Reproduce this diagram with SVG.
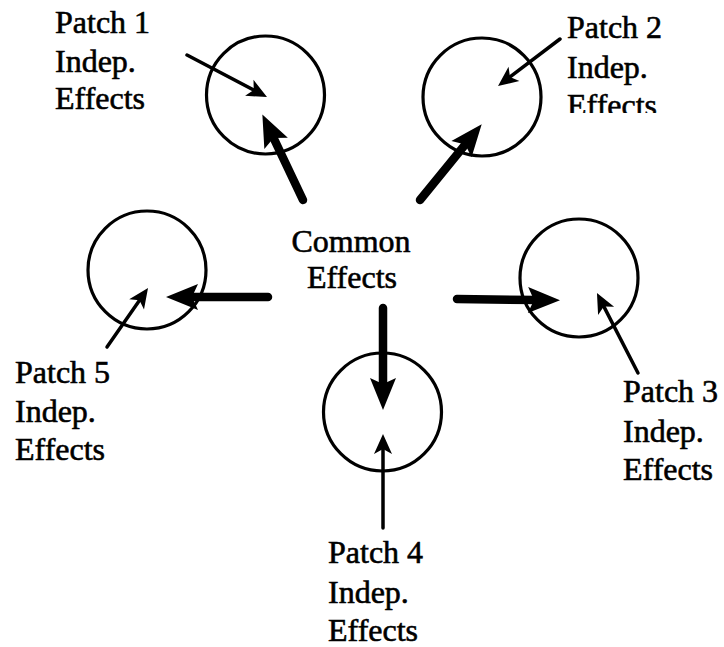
<svg xmlns="http://www.w3.org/2000/svg" width="724" height="647" viewBox="0 0 724 647">
<style>
.c{fill:none;stroke:#000;stroke-width:3.2}
.t{font-family:"Liberation Serif","Times New Roman",Times,serif;font-size:32px;fill:#000;stroke:#000;stroke-width:0.6}
.k{stroke:#000;stroke-width:8.5;stroke-linecap:round;fill:none;marker-end:url(#hk)}
.n{stroke:#000;stroke-width:3.5;stroke-linecap:round;fill:none;marker-end:url(#hn)}
</style>
<defs>
<marker id="hk" markerUnits="userSpaceOnUse" markerWidth="34" markerHeight="28" refX="10" refY="13" orient="auto" overflow="visible">
<path d="M0,0 L32,13 L0,26 L6,13 Z" fill="#000"/>
</marker>
<marker id="hn" markerUnits="userSpaceOnUse" markerWidth="22" markerHeight="20" refX="7" refY="9" orient="auto" overflow="visible">
<path d="M0,0 L20,9 L0,18 L5,9 Z" fill="#000"/>
</marker>
<clipPath id="clip2"><rect x="540" y="0" width="184" height="113"/></clipPath>
</defs>
<rect width="724" height="647" fill="#fff"/>
<g id="center">
<text class="t" x="351" y="252" text-anchor="middle">Common</text>
<text class="t" x="352" y="288" text-anchor="middle">Effects</text>
</g>
<g id="patch1">
<circle class="c" cx="265.5" cy="95" r="59"/>
<text class="t" x="55" y="33">Patch 1</text>
<text class="t" x="55" y="72">Indep.</text>
<text class="t" x="55" y="109">Effects</text>
</g>
<g id="patch2">
<circle class="c" cx="482" cy="97" r="59"/>
<text class="t" x="567" y="38">Patch 2</text>
<text class="t" x="567" y="78">Indep.</text>
<text class="t" x="567" y="116" clip-path="url(#clip2)">Effects</text>
</g>
<g id="patch3">
<circle class="c" cx="579" cy="278" r="59"/>
<text class="t" x="623" y="402">Patch 3</text>
<text class="t" x="623" y="442">Indep.</text>
<text class="t" x="623" y="480">Effects</text>
</g>
<g id="patch4">
<circle class="c" cx="382.5" cy="412" r="59"/>
<text class="t" x="328" y="563">Patch 4</text>
<text class="t" x="328" y="603">Indep.</text>
<text class="t" x="328" y="641">Effects</text>
</g>
<g id="patch5">
<circle class="c" cx="147" cy="270" r="59"/>
<text class="t" x="15" y="383">Patch 5</text>
<text class="t" x="15" y="422">Indep.</text>
<text class="t" x="15" y="460">Effects</text>
</g>
<g id="connectors">
<path class="k" d="M303,200 L271.8,134.3"/>
<path class="k" d="M420,200 L467.8,141.4"/>
<path class="k" d="M268,297 L188,297"/>
<path class="k" d="M457,299 L538,300"/>
<path class="k" d="M383,308 L383,388"/>
<path class="n" d="M187,55 L255.5,91"/>
<path class="n" d="M560,39 L508.4,78.1"/>
<path class="n" d="M107,347 L140.6,298.7"/>
<path class="n" d="M638,373 L602.9,304.6"/>
<path class="n" d="M383,528 L383,447"/>
</g>
</svg>
